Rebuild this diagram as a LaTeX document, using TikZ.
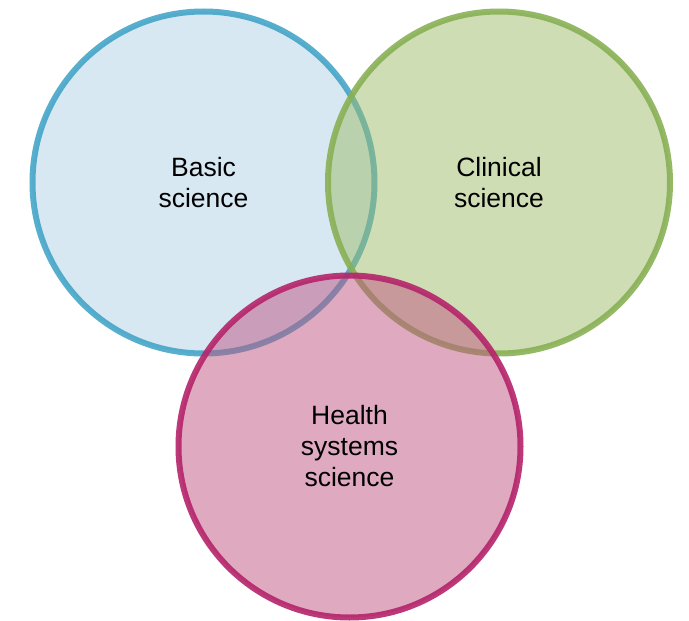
\documentclass[tikz,border=0pt]{standalone}
\usepackage{fontspec}
\setmainfont{Liberation Sans}
\definecolor{basicline}{HTML}{45A5C8}
\definecolor{basicfill}{HTML}{AFD1E7}
\definecolor{clinline}{HTML}{88B055}
\definecolor{clinfill}{HTML}{9FBB6B}
\definecolor{healthline}{HTML}{B5246A}
\definecolor{healthfill}{HTML}{BF5581}

\begin{document}
\begin{tikzpicture}[x=1pt,y=-1pt,every node/.style={circle,minimum size=342pt,line width=6pt,fill opacity=0.5,draw opacity=0.9,text opacity=1,align=center,font=\fontsize{26.5}{31}\selectfont}]
\useasboundingbox (0,0) rectangle (689,621);

\node[draw=basicline,fill=basicfill] (basic) at (203.5,182.5) {Basic\\science};
\node[draw=clinline,fill=clinfill] (clinical) at (499,182.5) {Clinical\\science};
\node[draw=healthline,fill=healthfill] (health) at (349.5,446.5) {Health\\systems\\science};
\end{tikzpicture}
\end{document}
